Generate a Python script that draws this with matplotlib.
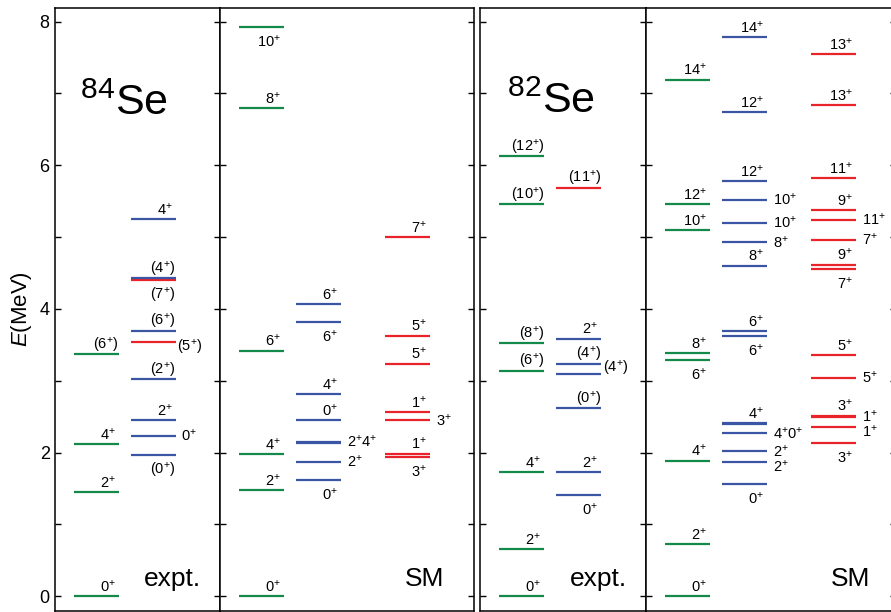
import matplotlib
matplotlib.use("Agg")
import matplotlib.pyplot as plt
from matplotlib.ticker import MultipleLocator

plt.rcParams["font.family"] = ["Liberation Sans", "DejaVu Sans"]
plt.rcParams["mathtext.fontset"] = "custom"
plt.rcParams["mathtext.rm"] = "Liberation Sans"
plt.rcParams["mathtext.it"] = "Liberation Sans:italic"
plt.rcParams["mathtext.bf"] = "Liberation Sans:bold"

GREEN = "#138a4a"
BLUE = "#3a55a4"
RED = "#e8242a"

# ---- 84Se, experiment ----
se84_exp_green_e = [0.0, 1.447, 2.116, 3.368]
se84_exp_green_j = ["0+", "2+", "4+", "(6+)"]
se84_exp_blue_e = [1.963, 2.235, 2.454, 3.020, 3.697, 4.430, 5.250]
se84_exp_blue_j = ["(0+)", "0+", "2+", "(2+)", "(6+)", "(4+)", "4+"]
se84_exp_red_e = [3.535, 4.400]
se84_exp_red_j = ["(5+)", "(7+)"]

# ---- 84Se, shell model ----
se84_sm_green_e = [0.0, 1.479, 1.980, 3.418, 6.790, 7.930]
se84_sm_green_j = ["0+", "2+", "4+", "6+", "8+", "10+"]
se84_sm_blue_e = [1.619, 1.869, 2.135, 2.150, 2.449, 2.816, 3.818, 4.068]
se84_sm_blue_j = ["0+", "2+", "", "2+4+", "0+", "4+", "6+", "6+"]
se84_sm_red_e = [1.943, 1.985, 2.449, 2.565, 3.237, 3.627, 5.000]
se84_sm_red_j = ["3+", "1+", "3+", "1+", "5+", "5+", "7+"]

# ---- 82Se, experiment ----
se82_exp_green_e = [0.0, 0.654, 1.730, 3.140, 3.520, 5.456, 6.130]
se82_exp_green_j = ["0+", "2+", "4+", "(6+)", "(8+)", "(10+)", "(12+)"]
se82_exp_blue_e = [1.405, 1.726, 2.621, 3.098, 3.237, 3.585]
se82_exp_blue_j = ["0+", "2+", "(0+)", "(4+)", "(4+)", "2+"]
se82_exp_red_e = [5.687]
se82_exp_red_j = ["(11+)"]

# ---- 82Se, shell model ----
se82_sm_green_e = [0.0, 0.728, 1.887, 3.289, 3.386, 5.098, 5.456, 7.190]
se82_sm_green_j = ["0+", "2+", "4+", "6+", "8+", "10+", "12+", "14+"]
se82_sm_blue_e = [1.563, 1.865, 2.018, 2.268, 2.395, 2.410, 3.627, 3.688,
                  4.602, 4.927, 5.200, 5.520, 5.776, 6.740, 7.784]
se82_sm_blue_j = ["0+", "2+", "2+", "4+0+", "", "4+", "6+", "6+",
                  "8+", "8+", "10+", "10+", "12+", "12+", "14+"]
se82_sm_red_e = [2.138, 2.352, 2.500, 2.515, 3.038, 3.354, 4.555, 4.615,
                 4.959, 5.242, 5.372, 5.818, 6.834, 7.548]
se82_sm_red_j = ["3+", "1+", "1+", "3+", "5+", "5+", "7+", "9+",
                 "7+", "11+", "9+", "11+", "13+", "13+"]

# label placement: a = above, b = below, r = right,
# l = right but a bit lower, u = right but a bit higher
se84_exp_green_p = "aaaa"
se84_exp_blue_p = "braaaaa"
se84_exp_red_p = "lb"
se84_sm_green_p = "aaaaab"
se84_sm_blue_p = "braraaba"
se84_sm_red_p = "baraaaa"
se82_exp_green_p = "aaaaaaa"
se82_exp_blue_p = "baauaa"
se82_exp_red_p = "a"
se82_sm_green_p = "aaabaaaa"
se82_sm_blue_p = "blrraabaarrraaa"
se82_sm_red_p = "blrarabarraaaa"

COLS = [(19, 64), (76, 121), (165, 210)]
YLIM = (-0.198, 8.195)
FIG_W, FIG_H = 891, 612
RIGHT_DY = {"r": -3.6, "l": -6.4, "u": 0.6}


def spin_label(j):
    # "2+4+" -> 2$^{+}$4$^{+}$
    return j.replace("+", r"$^{+}$")


def draw_levels(ax, col, energies, spins, places, color):
    x0, x1 = COLS[col]
    for e, j, p in zip(energies, spins, places):
        ax.plot([x0, x1], [e, e], color=color, lw=1.6,
                solid_capstyle="butt")
        if not j:
            continue
        paren = j.startswith("(")
        text = spin_label(j)
        if p == "a":
            ax.annotate(text, xy=(x1, e), xytext=(0 if paren else -2.2, 3.4),
                        textcoords="offset points", ha="right",
                        va="baseline", fontsize=10.5)
        elif p == "b":
            ax.annotate(text, xy=(x1, e), xytext=(0 if paren else -2.2, -14.2),
                        textcoords="offset points", ha="right",
                        va="baseline", fontsize=10.5)
        else:
            ax.annotate(text, xy=(x1, e),
                        xytext=(1.0 if paren else 4.0, RIGHT_DY[p]),
                        textcoords="offset points", ha="left",
                        va="baseline", fontsize=10.5)


def make_panel(fig, left_px, right_px, labelleft=False):
    ax = fig.add_axes([left_px / FIG_W, 1.5 / FIG_H,
                       (right_px - left_px) / FIG_W, 603 / FIG_H])
    ax.set_xlim(0, right_px - left_px)
    ax.set_ylim(*YLIM)
    ax.set_xticks([])
    ax.yaxis.set_major_locator(MultipleLocator(2))
    ax.yaxis.set_minor_locator(MultipleLocator(1))
    ax.tick_params(axis="y", which="both", direction="in", left=True,
                   right=True, length=4.3, width=1.0, labelsize=13,
                   pad=3.5, labelleft=labelleft)
    for sp in ax.spines.values():
        sp.set_linewidth(1.1)
    return ax


fig = plt.figure(figsize=(FIG_W / 100, FIG_H / 100), dpi=100)

ax1 = make_panel(fig, 54.5, 220, labelleft=True)
ax2 = make_panel(fig, 220, 474.3)
ax3 = make_panel(fig, 480.3, 646)
ax4 = make_panel(fig, 646, 896)

ax1.set_ylabel(r"$E$(MeV)", fontsize=16, labelpad=4)

draw_levels(ax1, 0, se84_exp_green_e, se84_exp_green_j, se84_exp_green_p, GREEN)
draw_levels(ax1, 1, se84_exp_red_e, se84_exp_red_j, se84_exp_red_p, RED)
draw_levels(ax1, 1, se84_exp_blue_e, se84_exp_blue_j, se84_exp_blue_p, BLUE)

draw_levels(ax2, 0, se84_sm_green_e, se84_sm_green_j, se84_sm_green_p, GREEN)
draw_levels(ax2, 1, se84_sm_blue_e, se84_sm_blue_j, se84_sm_blue_p, BLUE)
draw_levels(ax2, 2, se84_sm_red_e, se84_sm_red_j, se84_sm_red_p, RED)

draw_levels(ax3, 0, se82_exp_green_e, se82_exp_green_j, se82_exp_green_p, GREEN)
draw_levels(ax3, 1, se82_exp_blue_e, se82_exp_blue_j, se82_exp_blue_p, BLUE)
draw_levels(ax3, 1, se82_exp_red_e, se82_exp_red_j, se82_exp_red_p, RED)

draw_levels(ax4, 0, se82_sm_green_e, se82_sm_green_j, se82_sm_green_p, GREEN)
draw_levels(ax4, 1, se82_sm_blue_e, se82_sm_blue_j, se82_sm_blue_p, BLUE)
draw_levels(ax4, 2, se82_sm_red_e, se82_sm_red_j, se82_sm_red_p, RED)

ax1.text(25, 6.70, r"$^{84}$Se", fontsize=31, ha="left", va="baseline")
ax3.text(26.5, 6.73, r"$^{82}$Se", fontsize=31, ha="left", va="baseline")

for ax in (ax1, ax3):
    ax.text(89.5, 0.14, "expt.", fontsize=19, ha="left", va="baseline")
for ax in (ax2, ax4):
    ax.text(185, 0.14, "SM", fontsize=19, ha="left", va="baseline")

fig.savefig("out.png", dpi=100)
